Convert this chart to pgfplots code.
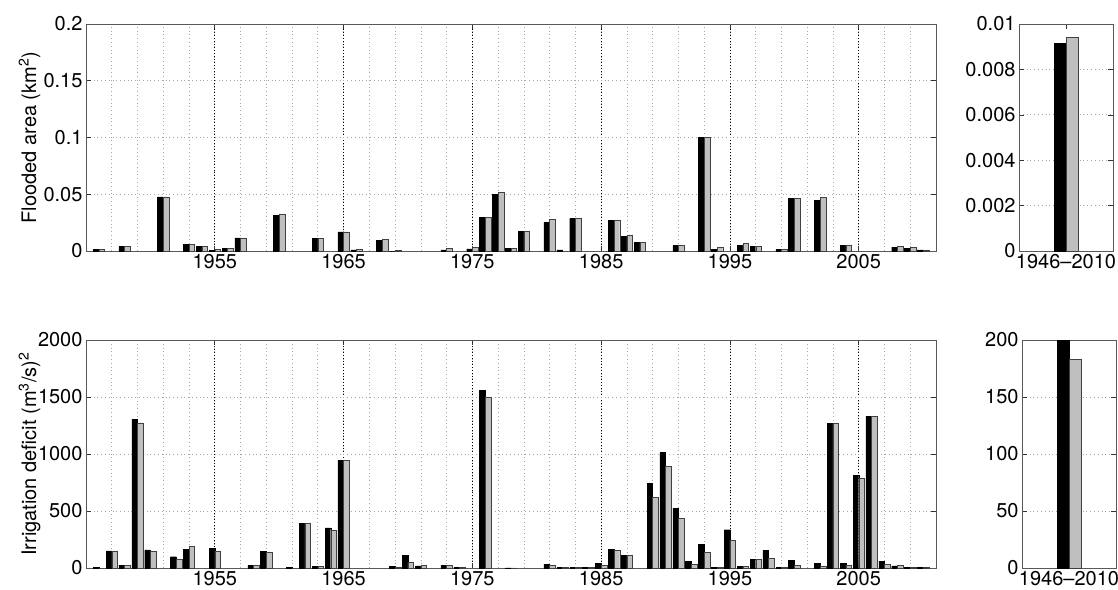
\documentclass[border=0pt]{standalone}
\usepackage{fontspec}
\setmainfont{TeX Gyre Heros}
\usepackage{pgfplots}
\pgfplotsset{compat=1.18}
\usepackage{pgfplotstable}

\pgfplotstableread{
year black gray
1946 0.0012 0.0012
1948 0.0038 0.0038
1951 0.0476 0.0476
1953 0.0056 0.0059
1954 0.0038 0.0038
1955 0.0006 0.0012
1956 0.0026 0.0026
1957 0.0115 0.0115
1960 0.0315 0.0326
1963 0.0109 0.0109
1965 0.0168 0.0168
1966 0.0009 0.0015
1968 0.0094 0.0103
1969 0.0000 0.0006
1973 0.0010 0.0024
1975 0.0018 0.0030
1976 0.0297 0.0297
1977 0.0497 0.0518
1978 0.0024 0.0026
1979 0.0171 0.0174
1981 0.0253 0.0280
1982 0.0010 0.0000
1983 0.0288 0.0288
1986 0.0270 0.0270
1987 0.0132 0.0141
1988 0.0074 0.0074
1991 0.0047 0.0047
1993 0.1000 0.1000
1994 0.0015 0.0035
1996 0.0047 0.0068
1997 0.0044 0.0044
1999 0.0015 0.0015
2000 0.0465 0.0465
2002 0.0447 0.0474
2004 0.0050 0.0053
2008 0.0035 0.0038
2009 0.0024 0.0030
2010 0.0009 0.0009
}\flood

\pgfplotstableread{
year black gray
1946 5 0
1947 150 150
1948 25 25
1949 1307 1272
1950 158 146
1952 99 76
1953 164 190
1955 173 149
1958 23 23
1959 146 140
1961 4 0
1962 389 389
1963 15 15
1964 351 330
1965 947 947
1969 15 9
1970 108 50
1971 18 23
1973 23 23
1974 5 3
1976 1558 1500
1978 2 2
1981 32 23
1982 3 3
1983 3 3
1984 5 5
1985 38 23
1986 161 155
1987 111 111
1989 740 617
1990 1012 892
1991 526 433
1992 61 32
1993 208 140
1994 6 4
1995 336 243
1996 12 12
1997 73 73
1998 155 88
1999 3 3
2000 67 23
2002 41 18
2003 1269 1269
2004 38 26
2005 810 784
2006 1330 1330
2007 61 35
2008 18 23
2009 3 3
2010 3 3
}\irrig

\pgfplotstableread{
x black gray
1 0.00915 0.00944
}\floodmean

\pgfplotstableread{
x black gray
1 200 183
}\irrigmean

\pgfplotsset{
  mystyle/.style={
    scale only axis,
    scaled ticks=false,
    axis line style={black!65, line width=0.8pt},
    tick style={black!80, line width=0.6pt},
    tick align=inside,
    xtick pos=both, ytick pos=both,
    major tick length=5bp,
    minor tick length=0pt,
    minor grid style={black!35, line width=0.7pt, dash pattern=on 0.8pt off 3pt},
    major grid style={black, line width=0.7pt, dash pattern=on 0.8pt off 2.2pt},
    /pgf/number format/assume math mode=true,
    tick label style={font=\fontsize{20bp}{23bp}\selectfont},
    label style={font=\fontsize{20bp}{23bp}\selectfont},
    ymin=0,
  },
  mainstyle/.style={
    mystyle,
    width=850bp,
    xmin=1945, xmax=2011,
    xtick={1955,1965,1975,1985,1995,2005},
    xticklabels={1955,1965,1975,1985,1995,2005},
    minor xtick={1947,1949,...,2009},
    xmajorgrids, xminorgrids, yminorgrids,
    ylabel style={at={(axis description cs:-0.0588,0.5)}, anchor=base},
  },
  sidestyle/.style={
    mystyle,
    width=94bp,
    xmin=0.5, xmax=1.5,
    xtick={1}, xticklabels={1946--2010},
    yminorgrids,
  },
  blackbar/.style={ybar, bar width=#1, bar shift=-#1/2, fill=black, draw=black, line width=0.4pt},
  graybar/.style={ybar, bar width=#1, bar shift=#1/2, fill=black!25, draw=black!75, line width=0.4pt},
}

\begin{document}
\begin{tikzpicture}
\useasboundingbox (0bp,0bp) rectangle (1118bp,-590bp);

% top main
\begin{axis}[mainstyle, at={(86bp,-24bp)}, anchor=north west, height=227bp,
  ymax=0.2, ytick={0,0.05,0.1,0.15,0.2}, yticklabels={0,0.05,0.1,0.15,0.2},
  minor ytick={0.05,0.1,0.15},
  ylabel={Flooded area (km\textsuperscript{2})}]
\addplot[blackbar=0.44] table[x=year, y=black] {\flood};
\addplot[graybar=0.44] table[x=year, y=gray] {\flood};
\end{axis}

% top side
\begin{axis}[sidestyle, at={(1019bp,-24bp)}, anchor=north west, height=227bp,
  ymax=0.01, ytick={0,0.002,0.004,0.006,0.008,0.01},
  yticklabels={0,0.002,0.004,0.006,0.008,0.01},
  minor ytick={0.002,0.004,0.006,0.008}]
\addplot[blackbar=0.125] table[x=x, y=black] {\floodmean};
\addplot[graybar=0.125] table[x=x, y=gray] {\floodmean};
\end{axis}

% bottom main
\begin{axis}[mainstyle, at={(86bp,-340bp)}, anchor=north west, height=228bp,
  ymax=2000, ytick={0,500,1000,1500,2000}, yticklabels={0,500,1000,1500,2000},
  minor ytick={500,1000,1500},
  ylabel={Irrigation deficit (m\textsuperscript{3}/s)\textsuperscript{2}}]
\addplot[blackbar=0.44] table[x=year, y=black] {\irrig};
\addplot[graybar=0.44] table[x=year, y=gray] {\irrig};
\end{axis}

% bottom side
\begin{axis}[sidestyle, at={(1022bp,-340bp)}, anchor=north west, height=228bp,
  ymax=200, ytick={0,50,100,150,200}, yticklabels={0,50,100,150,200},
  minor ytick={50,100,150}]
\addplot[blackbar=0.125] table[x=x, y=black] {\irrigmean};
\addplot[graybar=0.125] table[x=x, y=gray] {\irrigmean};
\end{axis}
\end{tikzpicture}
\end{document}
